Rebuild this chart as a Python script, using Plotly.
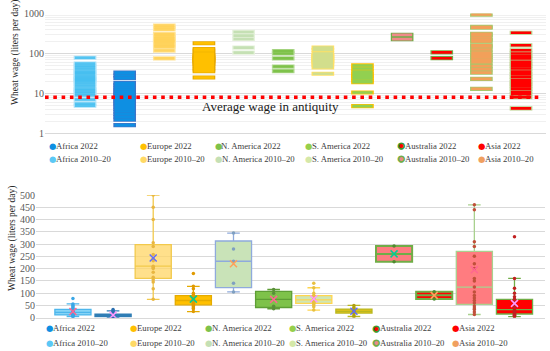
import numpy as np
import plotly.graph_objects as go

# ---------------- data (wheat wage, liters per day) ----------------
series_names = ["Africa 2010–20", "Africa 2022", "Europe 2010–20", "Europe 2022",
                "N. America 2010–20", "N. America 2022", "S. America 2010–20", "S. America 2022",
                "Australia 2010–20", "Australia 2022", "Asia 2010–20", "Asia 2022"]

africa_2010 = [78, 56, 50, 45, 40, 35, 33, 30, 27, 25, 23, 22, 21, 19, 17, 15, 13, 12, 11, 10, 9, 7, 5.5, 4.9]
africa_2022 = [33, 28, 24, 18, 16, 14, 12.5, 11, 10, 9, 8, 7.2, 6.5, 5.8, 5.2, 4.6, 4, 3.5, 3, 2.6, 2.2, 1.6]
europe_2010 = [500, 450, 400, 305, 290, 258, 240, 232, 210, 205, 200, 185, 165, 155, 145, 118, 75]
europe_2022 = [180, 128, 118, 100, 92, 88, 82, 78, 75, 72, 70, 68, 65, 62, 58, 55, 50, 45, 40, 36, 25]
namerica_2010 = [345, 280, 230, 140, 105]
namerica_2022 = [115, 100, 75, 47, 36]
samerica_2010 = [140, 122, 100, 90, 86, 80, 75, 70, 66, 62, 58, 52, 45, 31]
samerica_2022 = [50, 42, 35, 30, 27, 24, 21, 19, 10.5, 4.8]
australia_2010 = [228, 292]
australia_2022 = [76, 106]
asia_2010 = [940, 460, 440, 310, 290, 250, 220, 200, 160, 150, 125, 105, 90, 80, 70, 60, 48, 40, 33, 23, 13]
asia_2022 = [330, 160, 120, 100, 85, 75, 62, 55, 48, 42, 35, 30, 26, 22, 19, 17, 15, 13, 11, 9.5, 8, 4.2]

series_values = [africa_2010, africa_2022, europe_2010, europe_2022, namerica_2010, namerica_2022,
                 samerica_2010, samerica_2022, australia_2010, australia_2022, asia_2010, asia_2022]

antiquity_wage = 8
top_ticks = [1, 10, 100, 1000]
top_minor_ticks = [m * d for d in (1, 10, 100) for m in range(2, 10)]

# ---------------- styles ----------------
# (dash fill, dash border, box fill, box line, point color, legend color, legend border)
styles = {
    "Africa 2010–20":     ("rgba(69,190,240,0.85)", "#A8E0F8", "#86D4F6", "#4DB6EC", "#3AA6E6", "#5BC8F5", None),
    "Africa 2022":        ("#0E8FE2", "#3F74C8", "#1F8FD8", "#2F7DB5", "#2A6FB0", "#0E8FE2", None),
    "Europe 2010–20":     ("rgba(255,210,90,0.9)", "#FFE49A", "rgba(255,214,100,0.75)", "#F2C94C", "#E8B640", "#FFD966", None),
    "Europe 2022":        ("#FFC000", "#E8AA00", "#FFC000", "#E5AB00", "#E09A00", "#FFC000", None),
    "N. America 2010–20": ("#C5E0B4", "#E4F1DA", "#C9E3B8", "#8FAADC", "#7FA0C0", "#C5E0B4", None),
    "N. America 2022":    ("#7EC24A", "#B0D890", "#7EC24A", "#5E9E35", "#5A8E3A", "#7EC24A", None),
    "S. America 2010–20": ("#D2DE8C", "#FFE066", "#CFE6B6", "#FFD54F", "#E8C040", "#D5E8A8", None),
    "S. America 2022":    ("#92D050", "#FFC000", "#E6C21A", "#B9B820", "#B0A010", "#96CF4C", None),
    "Australia 2010–20":  ("#F08A8A", "#70AD47", "#FF7C80", "#70AD47", "#4E8A30", "#E98A8A", "#70AD47"),
    "Australia 2022":     ("#FF0000", "#70AD47", "#FF0000", "#70AD47", "#4E8A30", "#FF0000", "#3E9A30"),
    "Asia 2010–20":       ("#F2A05A", "#A9C66B", "#FF7C80", "#A9D18E", "#C0503A", "#F0A060", None),
    "Asia 2022":          ("#FF0000", "#B8CF8A", "#FF0000", "#70AD47", "#C02020", "#FF0000", None),
}

SERIF = "Liberation Serif"
fig = go.Figure()

# ---------------- top panel: reference line (antiquity wage) ----------------
fig.add_trace(go.Scatter(x=[0, 0.985], y=[antiquity_wage, antiquity_wage], mode="lines",
                         xaxis="x3", yaxis="y",
                         line=dict(color="#FF0000", width=3.6, dash="3.6px,4.7px"),
                         showlegend=False, hoverinfo="skip"))

# ---------------- top panel: individual values as dashes (log scale) ----------------
for name, vals in zip(series_names, series_values):
    fill, border = styles[name][0], styles[name][1]
    fig.add_trace(go.Scatter(x=[name] * len(vals), y=vals, mode="markers", xaxis="x", yaxis="y",
                             marker=dict(symbol="line-ew", size=16.2, line=dict(color=border, width=4.2)),
                             showlegend=False, hoverinfo="y"))
    fig.add_trace(go.Scatter(x=[name] * len(vals), y=vals, mode="markers", xaxis="x", yaxis="y",
                             marker=dict(symbol="line-ew", size=14.4, line=dict(color=fill, width=2.6)),
                             showlegend=False, hoverinfo="y"))

# ---------------- bottom panel: box plots ----------------
for name, vals in zip(series_names, series_values):
    _, _, bfill, bline, pcol, _, _ = styles[name]
    lw = 2 if name.startswith("Australia") else 1.3
    fig.add_trace(go.Box(x=[name] * len(vals), y=vals, xaxis="x2", yaxis="y2",
                         boxpoints="all", jitter=0, pointpos=0, quartilemethod="exclusive",
                         fillcolor=bfill, line=dict(color=bline, width=lw),
                         marker=dict(color=pcol, size=3.5), width=0.9, whiskerwidth=0.35,
                         showlegend=False, hoverinfo="y"))
    fig.add_trace(go.Scatter(x=[name], y=[float(np.mean(vals))], mode="markers", xaxis="x2", yaxis="y2",
                             marker=dict(symbol="x-thin-open", size=7, line=dict(color=pcol, width=1.5)),
                             showlegend=False, hoverinfo="y"))

# ---------------- layout ----------------
W, H = 550, 351
def px(x):
    return x / W
def py(y):
    return 1 - y / H

tickfont = dict(family=SERIF, size=10, color="#595959")
top_dom = [px(45), px(546)]
fig.update_layout(
    width=W, height=H, margin=dict(l=0, r=0, t=0, b=0, autoexpand=False),
    paper_bgcolor="white", plot_bgcolor="white", boxmode="overlay",
    xaxis=dict(domain=top_dom, anchor="y", type="category", categoryorder="array",
               categoryarray=series_names, range=[-1.01, 11.63], showticklabels=False, ticks="",
               showgrid=False, showline=True, linecolor="#D9D9D9", zeroline=False),
    xaxis3=dict(domain=top_dom, anchor="y", overlaying="x", range=[0, 1], visible=False),
    yaxis=dict(domain=[py(133.3), py(13.5)], anchor="x", type="log", range=[0, 3],
               tickvals=top_ticks, ticktext=[str(t) for t in top_ticks], tickfont=tickfont,
               gridcolor="#D9D9D9", gridwidth=1, showline=False, zeroline=False, ticks="",
               minor=dict(tickvals=top_minor_ticks, showgrid=True, gridcolor="#F0F0F0", ticks="")),
    xaxis2=dict(domain=[px(36), px(545)], anchor="y2", type="category", categoryorder="array",
                categoryarray=series_names, range=[-0.92, 11.76], showticklabels=False, ticks="",
                showgrid=False, showline=True, linecolor="#D9D9D9", zeroline=False),
    yaxis2=dict(domain=[py(317.7), py(195)], anchor="x2", range=[0, 500], dtick=50,
                tickfont=tickfont, gridcolor="#D9D9D9", showline=False, zeroline=False, ticks=""),
)

ann = []
# y-axis titles
for xt, yt in ((15, 52), (12, 238)):
    ann.append(dict(text="Wheat wage (liters per day)", textangle=-90, x=px(xt), y=py(yt), xref="paper",
                    yref="paper", xanchor="center", yanchor="middle", showarrow=False,
                    font=dict(family=SERIF, size=9.5, color="#262626")))
# antiquity label
ann.append(dict(text="Average wage in antiquity", x=px(270), y=py(107), xref="paper", yref="paper",
                xanchor="center", yanchor="middle", showarrow=False,
                font=dict(family=SERIF, size=13, color="#1a1a1a")))

# legends (two panels, 6 columns x 2 rows: 2022 on top row, 2010–20 on bottom row)
top_cols = [52, 143, 218, 308, 401, 481]
bot_cols = [49, 133, 208, 292, 376, 455]
regions = ["Africa", "Europe", "N. America", "S. America", "Australia", "Asia"]
for cols, rows in ((top_cols, (145.7, 159)), (bot_cols, (328.3, 342.7))):
    for ci, reg in enumerate(regions):
        for ri, per in enumerate(["2022", "2010–20"]):
            nm = f"{reg} {per}"
            lcol, lborder = styles[nm][5], styles[nm][6]
            xc, yc = cols[ci], rows[ri]
            if lborder:
                sym = (f"<span style='color:{lcol};stroke:{lborder};stroke-width:1.6px'>●</span>")
                size = 7.5
            else:
                sym = "●"
                size = 8.5
            ann.append(dict(text=sym, x=px(xc), y=py(yc), xref="paper", yref="paper", xanchor="center",
                            yanchor="middle", showarrow=False, borderpad=0,
                            font=dict(family="DejaVu Sans", size=size, color=lcol)))
            ann.append(dict(text=nm, x=px(xc + 2.5), y=py(yc), xref="paper", yref="paper", xanchor="left",
                            yanchor="middle", showarrow=False, borderpad=0,
                            font=dict(family=SERIF, size=8.7, color="#404040")))

fig.update_layout(annotations=ann)
fig.write_html("out.html", config={"displayModeBar": False, "staticPlot": True},
               post_script="document.body.style.margin='0px';")
